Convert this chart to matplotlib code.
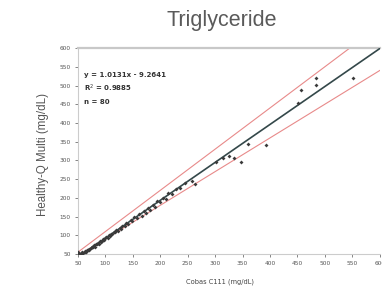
import matplotlib
matplotlib.use("Agg")
import matplotlib.pyplot as plt
import numpy as np

# Data
cobas = [50, 52, 55, 57, 58, 60, 62, 63, 65, 66, 68, 70, 71, 73, 75, 76, 78, 80, 82, 83,
         85, 87, 88, 90, 92, 94, 95, 97, 99,
         101, 104, 106, 108, 110, 113, 115, 118, 120, 123, 126, 128, 131, 135, 138, 142, 146, 149,
         153, 158, 162, 166, 170, 174, 178, 182, 186, 190, 195, 200, 205, 210, 215, 222, 228, 236,
         245, 257, 263,
         302, 314, 326, 335, 348, 360, 392, 451, 457, 483, 483, 552]
healthyq = [55, 50, 52, 51, 55, 52, 56, 58, 55, 60, 62, 63, 60, 66, 68, 70, 69, 73, 70, 77,
            76, 80, 78, 84, 82, 86, 90, 88, 93,
            95, 94, 100, 99, 104, 103, 110, 108, 115, 112, 120, 118, 125, 124, 132, 130, 140, 137,
            148, 146, 158, 152, 165, 160, 174, 168, 180, 176, 192, 188, 200, 196, 212, 210, 224, 226,
            240, 246, 237,
            295, 307, 313, 307, 295, 344, 342, 452, 489, 519, 501, 521]
slope, intercept = 1.0131, -9.2641
upper_factor, lower_factor = 1.1, 0.9
ticks = [50, 100, 150, 200, 250, 300, 350, 400, 450, 500, 550, 600]

fig = plt.figure(figsize=(3.82, 2.93), dpi=100)
ax = fig.add_axes([0.204, 0.133, 0.79, 0.703])

xl = np.array([50, 600])
ax.plot(xl, upper_factor * xl, color="#e88a8a", lw=0.8, zorder=2)
ax.plot(xl, lower_factor * xl, color="#e88a8a", lw=0.8, zorder=2)
ax.plot(xl, slope * xl + intercept, color="#34484a", lw=1.2, zorder=3)
ax.scatter(cobas, healthyq, marker="D", s=4, color="#3a3a3a", zorder=4, linewidths=0)

ax.set_xlim(50, 600)
ax.set_ylim(50, 600)
ax.set_xticks(ticks)
ax.set_yticks(ticks)
ax.tick_params(labelsize=4.2, colors="#555555", length=2, width=0.5, pad=3)
for s in ["left", "bottom"]:
    ax.spines[s].set_color("#cccccc")
    ax.spines[s].set_linewidth(0.8)
ax.spines["top"].set_color("#c8c8c8")
ax.spines["top"].set_linewidth(1.6)
ax.spines["right"].set_visible(False)

ax.text(0.02, 0.87, "y = 1.0131x - 9.2641", transform=ax.transAxes, fontsize=5,
        fontweight="bold", color="#333333", va="center")
ax.text(0.02, 0.806, "R$^2$ = 0.9885", transform=ax.transAxes, fontsize=5,
        fontweight="bold", color="#333333", va="center")
ax.text(0.02, 0.74, "n = 80", transform=ax.transAxes, fontsize=5,
        fontweight="bold", color="#333333", va="center")

fig.text(0.581, 0.93, "Triglyceride", ha="center", va="center", fontsize=15.5,
         color="#5a5a5a", family="Liberation Sans")
fig.text(0.113, 0.473, "Healthy-Q Multi (mg/dL)", ha="center", va="center", rotation=90,
         fontsize=8.3, color="#555555", family="Liberation Sans")
fig.text(0.576, 0.037, "Cobas C111 (mg/dL)", ha="center", va="center", fontsize=4.8,
         color="#444444")

fig.savefig("out.png", dpi=100)
